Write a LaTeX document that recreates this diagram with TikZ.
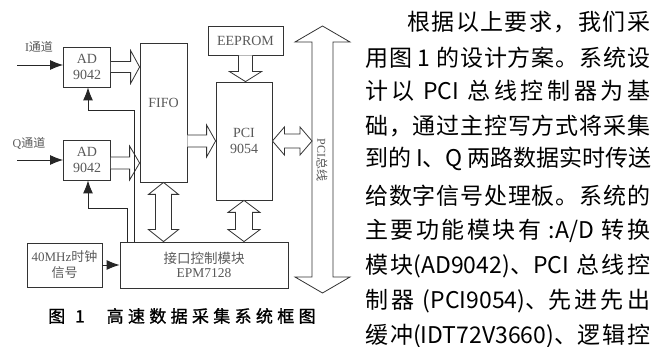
\documentclass[tikz,border=0pt]{standalone}
\usepackage{fontspec}
\setmainfont{Liberation Serif}
\newfontfamily\cjk{Noto Sans CJK SC}
\newfontfamily\cjkbold[FakeBold=1.2]{Noto Sans CJK SC}
\usetikzlibrary{arrows.meta,calc}
\definecolor{lc}{gray}{0.2}
\definecolor{tc}{gray}{0.35}
\newcommand\ls{\hspace{5pt}}
% horizontal single block arrow: from, to, shaft half, head half, head length
\newcommand\rblock[5]{\draw[blk] let \p1=(#1), \p2=(#2) in (\x1,\y1+#3) -- (\x2-#5,\y1+#3) -- (\x2-#5,\y1+#4) -- (\x2,\y1) -- (\x2-#5,\y1-#4) -- (\x2-#5,\y1-#3) -- (\x1,\y1-#3);}
% downward single block arrow
\newcommand\dblock[5]{\draw[blk] let \p1=(#1), \p2=(#2) in (\x1-#3,\y1) -- (\x1-#3,\y2+#5) -- (\x1-#4,\y2+#5) -- (\x1,\y2) -- (\x1+#4,\y2+#5) -- (\x1+#3,\y2+#5) -- (\x1+#3,\y1);}
% vertical double block arrow: top, bottom
\newcommand\vdbl[5]{\draw[blk] let \p1=(#1), \p2=(#2) in (\x1,\y1) -- (\x1+#4,\y1-#5) -- (\x1+#3,\y1-#5) -- (\x1+#3,\y2+#5) -- (\x1+#4,\y2+#5) -- (\x1,\y2) -- (\x1-#4,\y2+#5) -- (\x1-#3,\y2+#5) -- (\x1-#3,\y1-#5) -- (\x1-#4,\y1-#5) -- cycle;}
% horizontal double block arrow: left, right
\newcommand\hdbl[5]{\draw[blk] let \p1=(#1), \p2=(#2) in (\x1,\y1) -- (\x1+#5,\y1+#4) -- (\x1+#5,\y1+#3) -- (\x2-#5,\y1+#3) -- (\x2-#5,\y1+#4) -- (\x2,\y1) -- (\x2-#5,\y1-#4) -- (\x2-#5,\y1-#3) -- (\x1+#5,\y1-#3) -- (\x1+#5,\y1-#4) -- cycle;}
\newcommand\bodyline[3]{\node[anchor=west, inner sep=0pt] (#1) at #2 {#3};}
\begin{document}
\begin{tikzpicture}[x=1pt,y=-1pt,
  box/.style={draw=lc, line width=0.8pt, inner sep=0pt, align=center, text=tc,
    font=\fontsize{14}{16}\selectfont},
  lbl/.style={inner sep=0pt, align=center, text=tc, font=\fontsize{14}{16}\selectfont},
  blk/.style={draw=lc, line width=0.8pt, fill=white, line join=miter},
  arr/.style={draw=black!85, line width=0.9pt, -{Latex[length=13pt,width=10pt]}},
  body/.style={font=\cjk\fontsize{23}{23}\selectfont}]
\useasboundingbox (0,0) rectangle (653,347);

% ---- boxes ----
\node[box, minimum width=47pt, minimum height=40pt] (ad1) at (87,67) {AD\\9042};
\node[box, minimum width=47pt, minimum height=40pt] (ad2) at (87,160) {AD\\9042};
\node[box, minimum width=47pt, minimum height=139pt] (fifo) at (163.5,112.5) {};
\node[lbl] (fifol) at (163.5,103) {FIFO};
\node[box, minimum width=75pt, minimum height=29pt] (eep) at (245.5,40.5) {EEPROM};
\node[box, minimum width=56pt, minimum height=118pt] (pci) at (244,141) {PCI\\9054};
\node[box, minimum width=168pt, minimum height=46pt, font=\fontsize{13.5}{14.5}\selectfont] (ifc) at (204,265)
  {{\cjk 接口控制模块}\\EPM7128};
\node[box, minimum width=75pt, minimum height=44pt, font=\fontsize{13}{16}\selectfont] (clk) at (64.5,265)
  {40MHz{\cjk 时钟}\\{\cjk 信号}};

% ---- input labels ----
\node[lbl, font=\fontsize{12}{12}\selectfont] (ilbl) at (39,47) {I{\cjk 通道}};
\node[lbl, font=\fontsize{12}{12}\selectfont] (qlbl) at (29,143) {Q{\cjk 通道}};
\coordinate (iin) at (17,65);
\coordinate (qin) at (17,160);

% ---- bus ----
\coordinate (bustop) at (322.5,26);
\coordinate (busbot) at (322.5,293);
\coordinate (busw) at (312,141);
\vdbl{bustop}{busbot}{10.5pt}{27.5pt}{16pt}
\node[lbl, rotate=-90, font=\fontsize{12}{12}\selectfont] (buslbl) at (322,160) {PCI{\cjk 总线}};

% ---- block arrows ----
\rblock{ad1.east}{fifo.west}{5.5pt}{16.5pt}{9pt}
\rblock{$(ad2.east)+(0,3)$}{fifo.west}{6pt}{17pt}{10pt}
\rblock{fifo.east |- pci.west}{pci.west}{6pt}{16pt}{9pt}
\dblock{eep.south}{pci.north}{7pt}{16pt}{10pt}
\hdbl{pci.east}{busw}{7pt}{14pt}{12pt}
\vdbl{fifo.south}{ifc.north -| fifo.south}{8pt}{15pt}{12pt}
\vdbl{pci.south}{ifc.north -| pci.south}{8.5pt}{16pt}{12pt}

% ---- thin arrows ----
\draw[arr] (iin) -- (ad1.west |- iin);
\draw[arr] (qin) -- (ad2.west |- qin);
\draw[arr] (clk.east) -- (ifc.west);
\coordinate (f1) at (134,110);
\coordinate (k1) at (88,110);
\coordinate (f2) at (127,208);
\coordinate (k2) at (88,208);
\draw[arr] (ifc.north -| f1) -- (f1) -- (k1) -- (k1 |- ad1.south);
\draw[arr] (ifc.north -| f2) -- (f2) -- (k2) -- (k2 |- ad2.south);

% ---- caption ----
\node[anchor=west, inner sep=0pt, font=\cjkbold\fontsize{17}{17}\selectfont] (cap) at (48,316)
  {图\hspace{10pt}1\hspace{22pt}\makebox[209pt][s]{\spaceskip=0pt plus 1fil 高 速 数 据 采 集 系 统 框 图}};

% ---- body text ----
\begin{scope}[every node/.style={body}]
\bodyline{t1}{(407,22.5)}{\makebox[243pt][s]{\spaceskip=0pt plus 1fil 根 据 以 上 要 求 ， 我 们 采}}
\bodyline{t2}{(365,57.5)}{\makebox[285pt][s]{\spaceskip=0pt plus 1fil 用 图 \ls 1 \ls 的 设 计 方 案 。 系 统 设}}
\bodyline{t3}{(365,91)}{\makebox[285pt][s]{\spaceskip=0pt plus 1fil 计 以 \ls PCI \ls 总 线 控 制 器 为 基}}
\bodyline{t4}{(365,126)}{\makebox[285pt][s]{\spaceskip=0pt plus 1fil 础 ， 通 过 主 控 写 方 式 将 采 集}}
\bodyline{t5}{(365,159)}{\makebox[285pt][s]{\spaceskip=0pt plus 1fil 到 的 \ls I、Q \ls 两 路 数 据 实 时 传 送}}
\bodyline{t6}{(365,196)}{\makebox[285pt][s]{\spaceskip=0pt plus 1fil 给 数 字 信 号 处 理 板 。 系 统 的}}
\bodyline{t7}{(365,231)}{\makebox[285pt][s]{\spaceskip=0pt plus 1fil 主 要 功 能 模 块 有 \ls:A/D \ls 转 换}}
\bodyline{t8}{(365,266)}{\makebox[285pt][s]{\spaceskip=0pt plus 1fil 模 块(AD9042)、PCI \ls 总 线 控}}
\bodyline{t9}{(365,301)}{\makebox[285pt][s]{\spaceskip=0pt plus 1fil 制 器 \ls(PCI9054)、先 进 先 出}}
\bodyline{t10}{(365,336)}{\makebox[285pt][s]{\spaceskip=0pt plus 1fil 缓 冲(IDT72V3660)、逻 辑 控}}
\end{scope}
\end{tikzpicture}
\end{document}
